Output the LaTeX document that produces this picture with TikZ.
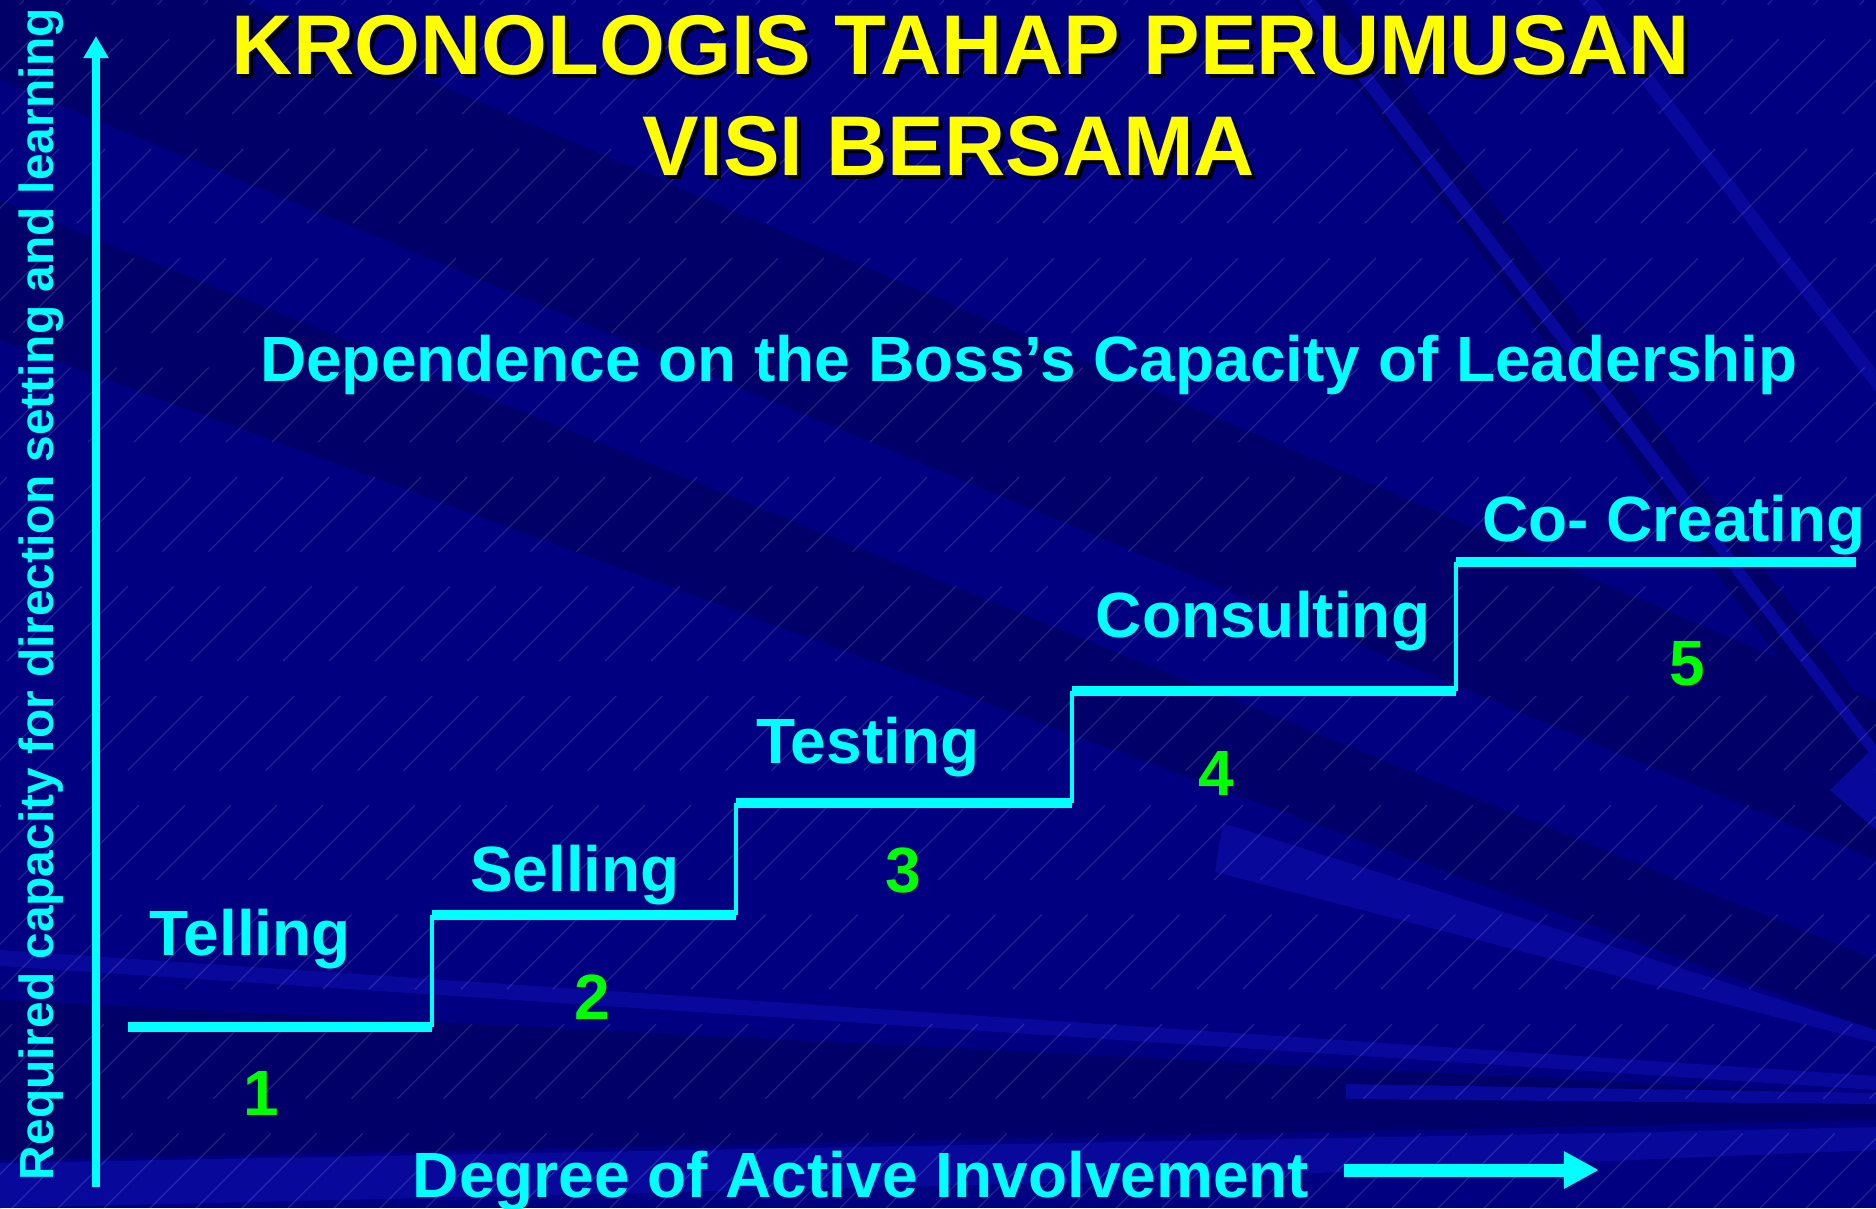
\documentclass[tikz,border=0pt]{standalone}
\usepackage{fontspec}
\setmainfont{Liberation Sans}
\usetikzlibrary{arrows.meta,positioning}

\definecolor{bgblue}{RGB}{0,0,128}
\definecolor{bgdark}{RGB}{0,0,104}
\definecolor{bglight}{RGB}{8,8,155}
\definecolor{stepcyan}{RGB}{0,255,255}
\definecolor{numgreen}{RGB}{0,255,0}
\definecolor{titleyellow}{RGB}{255,255,0}

\tikzset{
  title/.style={font=\fontsize{24.1pt}{29pt}\selectfont\bfseries,
                text=titleyellow, anchor=base, inner sep=0pt},
  titleshadow/.style={title, text=black},
  steplabel/.style={font=\fontsize{18.2pt}{22pt}\selectfont\bfseries,
                    text=stepcyan, anchor=base, inner sep=0pt},
  stepnum/.style={steplabel, text=numgreen},
  tread/.style={draw=stepcyan, line width=3.1pt},
  riser/.style={draw=stepcyan, line width=0.9pt},
  hatch/.style={draw=white, opacity=0.15, line width=0.3pt,
                dash pattern=on 30pt off 14pt}
}

\begin{document}
\begin{tikzpicture}[x=0.01cm,y=-0.01cm]
  \useasboundingbox (0,0) rectangle (1876,1208);

  % background rays
  \begin{scope}
    \clip (0,0) rectangle (1876,1208);
    \fill[bgblue] (0,0) rectangle (1876,1208);
    \fill[bgdark] (0,-5) -- (230,-5) -- (1876,700) -- (1876,860) -- (0,80) -- cycle;
    \fill[bgdark] (0,200) -- (1876,960) -- (1876,1030) -- (0,340) -- cycle;
    \fill[bgdark] (0,1000) -- (1876,1095) -- (1876,1120) -- (0,1160) -- cycle;
    \fill[bgdark] (1290,-5) -- (1340,-5) -- (1876,720) -- (1876,790) -- cycle;
    \fill[bglight] (1223,823) -- (1876,1030) -- (1876,1043) -- (1215,872) -- cycle;
    \fill[bglight] (0,950) -- (1876,1076) -- (1876,1090) -- (0,966) -- cycle;
    \fill[bglight] (1346,1084) -- (1876,1093) -- (1876,1104) -- (1346,1099) -- cycle;
    \fill[bglight] (0,1163) -- (1600,1133) -- (1876,1127) -- (1876,1150)
                   -- (1100,1182) -- (0,1208) -- cycle;
    \fill[bglight] (1830,790) -- (1876,745) -- (1876,830) -- cycle;
    \fill[bglight] (1295,-5) -- (1312,-5) -- (1876,745) -- (1876,762) -- cycle;
    \fill[bglight] (1575,-5) -- (1592,-5) -- (1876,370) -- (1876,392) -- cycle;
    \foreach \x in {-1230,-1184,...,1880}
      \draw[hatch] (\x,1208) -- +(1208,-1208);
  \end{scope}

  % title
  \node[titleshadow] (title1s) at (965,78)  {KRONOLOGIS TAHAP PERUMUSAN};
  \node[titleshadow] (title2s) at (953,179) {VISI BERSAMA};
  \node[title]       (title1)  at (961,74)  {KRONOLOGIS TAHAP PERUMUSAN};
  \node[title]       (title2)  at (949,175) {VISI BERSAMA};

  \node[steplabel] (boss) at (1029,381)
       {Dependence on the Boss’s Capacity of Leadership};

  % stairs
  \coordinate (t1w) at (128,1027);  \coordinate (t1e) at (432,1027);
  \coordinate (t2w) at (432,915);   \coordinate (t2e) at (736,915);
  \coordinate (t3w) at (736,803);   \coordinate (t3e) at (1072,803);
  \coordinate (t4w) at (1072,691);  \coordinate (t4e) at (1456,691);
  \coordinate (t5w) at (1456,562);  \coordinate (t5e) at (1856,562);

  \draw[riser] (t1e) -- (t2w);
  \draw[riser] (t2e) -- (t3w);
  \draw[riser] (t3e) -- (t4w);
  \draw[riser] (t4e) -- (t5w);
  \draw[tread] (t1w) -- (t1e);
  \draw[tread] (t2w) -- (t2e);
  \draw[tread] (t3w) -- (t3e);
  \draw[tread] (t4w) -- (t4e);
  \draw[tread] (t5w) -- (t5e);

  \node[steplabel] (telling)    at (250,955)  {Telling};
  \node[steplabel] (selling)    at (575,891)  {Selling};
  \node[steplabel] (testing)    at (868,763)  {Testing};
  \node[steplabel] (consulting) at (1263,637) {Consulting};
  \node[steplabel] (cocreating) at (1674,541) {Co- Creating};

  \node[stepnum] (n1) at (261,1115) {1};
  \node[stepnum] (n2) at (592,1019) {2};
  \node[stepnum] (n3) at (903,892)  {3};
  \node[stepnum] (n4) at (1216,795) {4};
  \node[stepnum] (n5) at (1687,685) {5};

  % axes
  \coordinate (yfoot) at (96,1187);
  \coordinate (ytip)  at (96,36);
  \draw[stepcyan, line width=2.3pt, -{Triangle[width=6.8pt,length=6.3pt]}]
       (yfoot) -- (ytip);
  \node[steplabel, font=\fontsize{13.6pt}{16pt}\selectfont\bfseries,
        rotate=90] (ylabel) at (54,594)
       {Required capacity for direction setting and learning};

  \node[steplabel] (xlabel) at (861,1197) {Degree of Active Involvement};
  \coordinate (xtail) at (1344,1170);
  \coordinate (xtip)  at (1599,1170);
  \draw[stepcyan, line width=3.7pt, -{Triangle[width=10pt,length=10pt]}]
       (xtail) -- (xtip);
\end{tikzpicture}
\end{document}
